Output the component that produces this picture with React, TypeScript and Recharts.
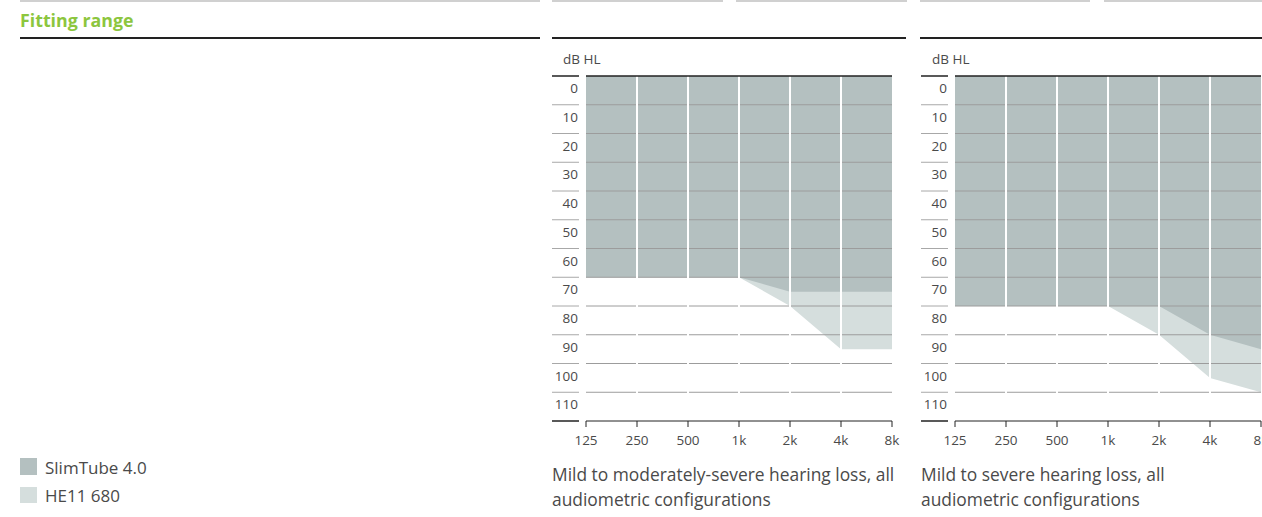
import React from 'react';
import { AreaChart, Area, XAxis, YAxis, ReferenceLine } from 'recharts';

const freqs = [125, 250, 500, 1000, 2000, 4000, 8000];
const freqLabels = ['125', '250', '500', '1k', '2k', '4k', '8k'];
const dbTicks = [0, 10, 20, 30, 40, 50, 60, 70, 80, 90, 100, 110, 120];

// chart 1: mild to moderately-severe
const slimTubeA = [70, 70, 70, 70, 75, 75, 75];
const he11A = [70, 70, 70, 70, 80, 95, 95];
// chart 2: mild to severe
const slimTubeB = [80, 80, 80, 80, 80, 90, 95];
const he11B = [80, 80, 80, 80, 90, 105, 110];

const DARK = '#b4c0c0';
const LIGHT = '#d5dedd';
const TEXT = '#4a4a4a';
const FONT = "'Open Sans', sans-serif";

function DbTick(props: any) {
  const { y, payload } = props;
  const v = payload.value;
  const edge = v === 0 || v === 120;
  return (
    <g>
      <line x1={0} x2={27} y1={y} y2={y} stroke={edge ? '#222' : '#a8a8a8'} strokeWidth={edge ? 1.5 : 1} />
      {v < 120 && (
        <text x={26} y={y + 12} textAnchor="end" dominantBaseline="central" fontSize={13.5} fill={TEXT} fontFamily={FONT}>
          {v}
        </text>
      )}
    </g>
  );
}

function Audiogram({ slim, he }: { slim: number[]; he: number[] }) {
  const data = freqs.map((f, i) => ({ f, slim: slim[i], he: he[i] }));
  return (
    <AreaChart width={354} height={410} data={data} margin={{ top: 31, right: 14, bottom: 4, left: 0 }}>
      <XAxis
        dataKey="f"
        type="number"
        scale="log"
        domain={[125, 8000]}
        ticks={freqs}
        tickFormatter={(v: number) => freqLabels[freqs.indexOf(v)]}
        tickSize={6}
        tickMargin={8}
        height={30}
        stroke="#222"
        tick={{ fontSize: 13.5, fill: TEXT, fontFamily: FONT }}
        allowDataOverflow
      />
      <YAxis
        type="number"
        domain={[0, 120]}
        ticks={dbTicks}
        reversed
        width={34}
        axisLine={false}
        tickLine={false}
        tick={<DbTick />}
        interval={0}
      />
      <Area type="linear" dataKey="he" stroke="none" fill={LIGHT} fillOpacity={1} baseValue={0} isAnimationActive={false} />
      <Area type="linear" dataKey="slim" stroke="none" fill={DARK} fillOpacity={1} baseValue={0} isAnimationActive={false} />
      {dbTicks.slice(1, -1).map((d) => (
        <ReferenceLine key={'h' + d} y={d} stroke="#9c9c9c" strokeWidth={1} />
      ))}
      {freqs.slice(1, -1).map((f) => (
        <ReferenceLine key={'v' + f} x={f} stroke="#ffffff" strokeWidth={2} />
      ))}
      <ReferenceLine y={0} stroke="#222" strokeWidth={1.5} />
    </AreaChart>
  );
}

const rule = (left: number, top: number, width: number, color: string, h: number) => (
  <div style={{ position: 'absolute', left, top, width, height: h, background: color }} />
);

export default function App() {
  return (
    <div
      style={{
        position: 'fixed',
        left: 0,
        top: 0,
        width: 1262,
        height: 517,
        overflow: 'hidden',
        background: '#fff',
        fontFamily: FONT,
        color: TEXT,
      }}
    >
      {rule(20, 0, 520, '#d0d0d0', 2)}
      {rule(552, 0, 171, '#d0d0d0', 2)}
      {rule(736, 0, 171, '#d0d0d0', 2)}
      {rule(920, 0, 170, '#d0d0d0', 2)}
      {rule(1104, 0, 160, '#d0d0d0', 2)}
      {rule(20, 37, 520, '#222', 2)}
      {rule(552, 37, 354, '#222', 2)}
      {rule(920, 37, 350, '#222', 2)}

      <div style={{ position: 'absolute', left: 20, top: 8, fontSize: 17.8, fontWeight: 700, color: '#8cc63e', lineHeight: '24px' }}>
        Fitting range
      </div>

      <div style={{ position: 'absolute', left: 563, top: 50, fontSize: 13.5, lineHeight: '18px' }}>dB HL</div>
      <div style={{ position: 'absolute', left: 932, top: 50, fontSize: 13.5, lineHeight: '18px' }}>dB HL</div>

      <div style={{ position: 'absolute', left: 552, top: 45 }}>
        <Audiogram slim={slimTubeA} he={he11A} />
      </div>
      <div style={{ position: 'absolute', left: 921, top: 45 }}>
        <Audiogram slim={slimTubeB} he={he11B} />
      </div>

      <div style={{ position: 'absolute', left: 552, top: 462, fontSize: 17.4, lineHeight: '25px', width: 360 }}>
        Mild to moderately-severe hearing loss, all
        <br />
        audiometric configurations
      </div>
      <div style={{ position: 'absolute', left: 921, top: 462, fontSize: 17.4, lineHeight: '25px', width: 340 }}>
        Mild to severe hearing loss, all
        <br />
        audiometric configurations
      </div>

      <div style={{ position: 'absolute', left: 20, top: 458, width: 17, height: 17, background: DARK }} />
      <div style={{ position: 'absolute', left: 45, top: 456, fontSize: 17, lineHeight: '24px' }}>SlimTube 4.0</div>
      <div style={{ position: 'absolute', left: 20, top: 487, width: 17, height: 16, background: LIGHT }} />
      <div style={{ position: 'absolute', left: 45, top: 484, fontSize: 17, lineHeight: '24px' }}>HE11 680</div>
    </div>
  );
}
